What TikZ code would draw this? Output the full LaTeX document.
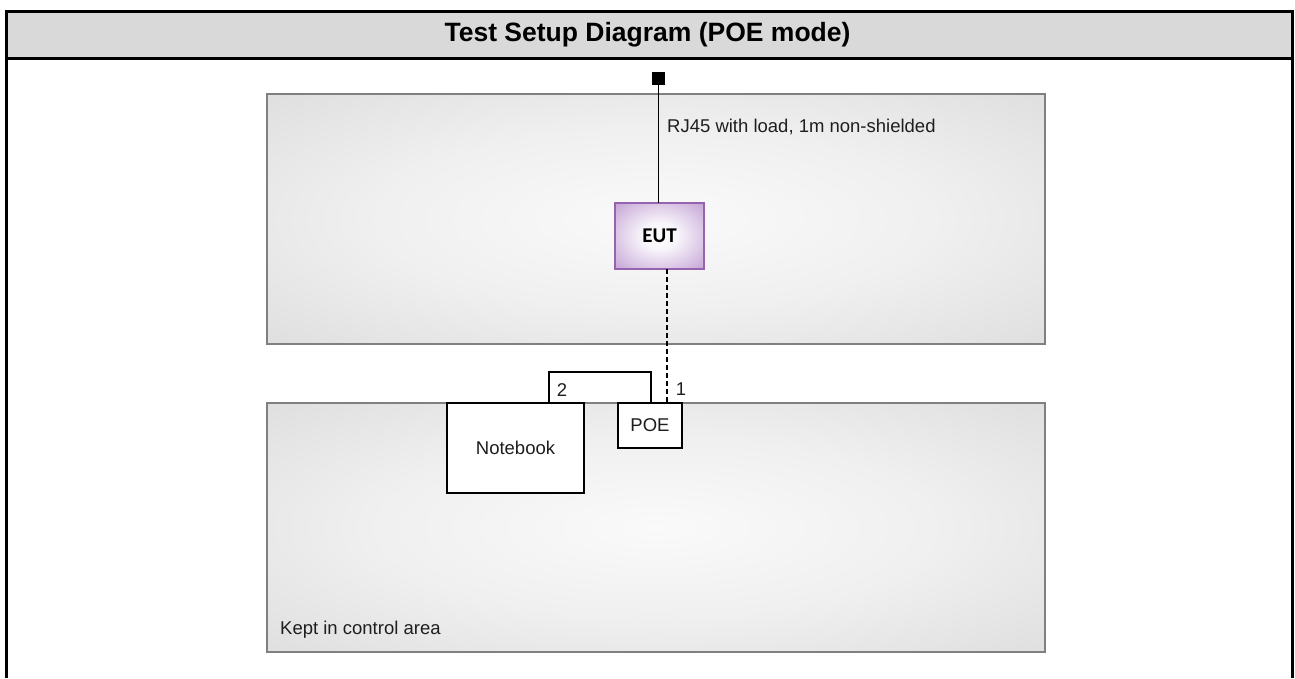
\documentclass[tikz,border=0pt]{standalone}
\usepackage{fontspec}
\setmainfont{Liberation Sans}
\newfontfamily\eutfont{Carlito}
\definecolor{headergray}{RGB}{217,217,217}
\definecolor{panelline}{RGB}{128,128,128}
\definecolor{eutline}{RGB}{150,100,175}
\definecolor{eutouter}{RGB}{176,132,200}
\definecolor{inktext}{RGB}{30,30,30}
\pgfdeclareradialshading{panelglow}{\pgfpoint{0bp}{0bp}}{%
  color(0bp)=(white!98!black); color(18bp)=(white!94!black);
  color(50bp)=(white!82!black); color(72bp)=(white!78!black)}
\pgfdeclareradialshading{eutglow}{\pgfpoint{0bp}{0bp}}{%
  color(0bp)=(white); color(10bp)=(white!92!eutouter);
  color(45bp)=(eutouter); color(72bp)=(eutouter)}
\begin{document}
\begin{tikzpicture}[x=1pt,y=-1pt,
  txt/.style={font=\fontsize{18.5}{22}\selectfont, text=inktext, inner sep=0pt},
  panel/.style={rectangle, draw=panelline, line width=1.8pt, shading=panelglow,
    inner sep=0pt, outer sep=0pt},
  unit/.style={rectangle, draw=black, line width=1.5pt, fill=white,
    inner sep=0pt, outer sep=0pt, font=\fontsize{18.5}{22}\selectfont, text=inktext},
  eutbox/.style={rectangle, draw=eutline, line width=1.5pt, shading=eutglow,
    inner sep=0pt, outer sep=0pt, font=\eutfont\bfseries\fontsize{21}{24}\selectfont},
  cable/.style={draw=black, line width=1.7pt},
  dashcable/.style={draw=black, line width=1.7pt, dash pattern=on 5pt off 3pt}]
\useasboundingbox (0,0) rectangle (1295,678);

% title bar and outer frame
\fill[headergray] (6.5,11) rectangle (1292.5,58);
\draw[line width=3pt] (6.5,678) -- (6.5,11) -- (1292.5,11) -- (1292.5,678);
\draw[line width=3pt] (6.5,58) -- (1292.5,58);
\node[font=\bfseries\fontsize{26.5}{30}\selectfont, inner sep=0pt] (title) at (647.5,34.5)
  {Test Setup Diagram (POE mode)};

% test areas
\node[panel, minimum width=778pt, minimum height=250pt] (upper) at (656,219) {};
\node[panel, minimum width=778pt, minimum height=249pt] (lower) at (656,527.5) {};

% equipment
\node[fill=black, minimum size=13pt, inner sep=0pt, outer sep=0pt] (plug) at (658.5,78.5) {};
\node[eutbox, minimum width=89pt, minimum height=66pt] (eut) at (659.5,236) {EUT};
\node[unit, minimum width=137pt, minimum height=90pt] (nb) at (515.5,448) {Notebook};
\node[unit, minimum width=64pt, minimum height=45pt] (poe) at (650,425.5) {POE};

% cables
\draw[cable] (plug) -- (plug |- eut.north);
\draw[dashcable] ([xshift=7.5pt]eut.south) -- ([xshift=7.5pt]eut.south |- poe.north);
\draw[cable] ([xshift=102pt]nb.north west) -- ++(0,-31) -| ([xshift=33pt]poe.north west);

% labels
\node[txt, anchor=west] (rjlabel) at (667,127) {RJ45 with load, 1m non-shielded};
\node[txt] (lbltwo) at (562,390) {2};
\node[txt] (lblone) at (681,389) {1};
\node[txt, anchor=west] (arealabel) at (280,630) {Kept in control area};
\end{tikzpicture}
\end{document}
